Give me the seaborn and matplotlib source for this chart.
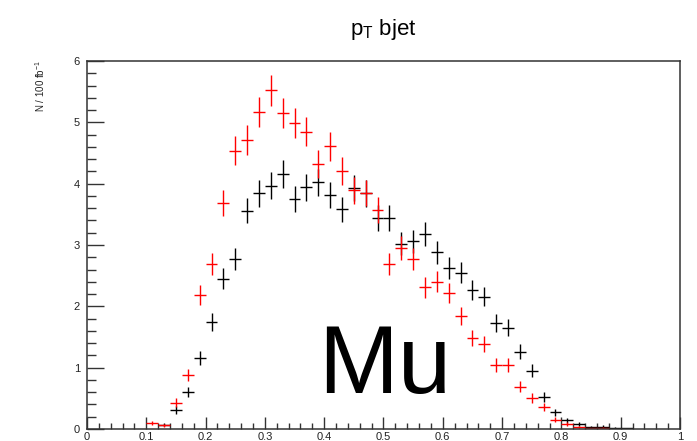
import matplotlib
matplotlib.use("Agg")
import matplotlib.pyplot as plt
import numpy as np
import seaborn as sns
from matplotlib.ticker import MultipleLocator

sns.set_style("ticks")
plt.rcParams["font.family"] = ["Liberation Sans", "DejaVu Sans"]
plt.rcParams["text.color"] = "black"
plt.rcParams["mathtext.fontset"] = "custom"
plt.rcParams["mathtext.rm"] = "Liberation Sans"

# bin centres (width 0.02) and contents
red_x = [0.11, 0.13, 0.15, 0.17, 0.19, 0.21, 0.23, 0.25, 0.27, 0.29,
         0.31, 0.33, 0.35, 0.37, 0.39, 0.41, 0.43, 0.45, 0.47, 0.49,
         0.51, 0.53, 0.55, 0.57, 0.59, 0.61, 0.63, 0.65, 0.67, 0.69,
         0.71, 0.73, 0.75, 0.77, 0.79, 0.81, 0.83, 0.85, 0.87]
red_y = [0.10, 0.06, 0.43, 0.88, 2.19, 2.69, 3.68, 4.54, 4.71, 5.17,
         5.52, 5.15, 4.99, 4.85, 4.32, 4.61, 4.21, 3.89, 3.85, 3.57,
         2.69, 2.95, 2.77, 2.31, 2.40, 2.21, 1.84, 1.48, 1.39, 1.04,
         1.04, 0.69, 0.51, 0.36, 0.15, 0.08, 0.03, 0.01, 0.02]

black_x = [0.13, 0.15, 0.17, 0.19, 0.21, 0.23, 0.25, 0.27, 0.29, 0.31,
           0.33, 0.35, 0.37, 0.39, 0.41, 0.43, 0.45, 0.47, 0.49, 0.51,
           0.53, 0.55, 0.57, 0.59, 0.61, 0.63, 0.65, 0.67, 0.69, 0.71,
           0.73, 0.75, 0.77, 0.79, 0.81, 0.83, 0.85, 0.87, 0.89, 0.91]
black_y = [0.07, 0.31, 0.60, 1.16, 1.75, 2.45, 2.77, 3.56, 3.84, 3.97,
           4.16, 3.75, 3.94, 4.02, 3.82, 3.58, 3.93, 3.84, 3.44, 3.44,
           3.02, 3.06, 3.18, 2.88, 2.62, 2.55, 2.27, 2.16, 1.73, 1.65,
           1.26, 0.95, 0.52, 0.27, 0.14, 0.08, 0.03, 0.04, 0.02, 0.01]

bin_half = 0.01
event_weight = 0.0121  # weighted-Poisson errors: sqrt(N * w)


def draw_hist(ax, x, y, color):
    y = np.asarray(y)
    ax.errorbar(x, y, xerr=bin_half, yerr=np.sqrt(y * event_weight),
                fmt="none", ecolor=color, elinewidth=1.0, capsize=0)


fig = plt.figure(figsize=(6.97, 4.41), dpi=100)
ax = fig.add_axes([0.1248, 0.0272, 0.8508, 0.8345])

draw_hist(ax, black_x, black_y, "black")
draw_hist(ax, red_x, red_y, "red")

ax.set_xlim(0, 1)
ax.set_ylim(0, 6)
ax.xaxis.set_major_locator(MultipleLocator(0.1))
ax.xaxis.set_minor_locator(MultipleLocator(0.02))
ax.yaxis.set_major_locator(MultipleLocator(1))
ax.yaxis.set_minor_locator(MultipleLocator(0.2))
ax.set_xticklabels([f"{v:g}" for v in np.round(ax.get_xticks(), 1)])

for s in ax.spines.values():
    s.set_linewidth(1.1)
    s.set_color("#333333")
ax.tick_params(axis="both", which="both", direction="in", top=False, right=False,
               labelsize=8, color="#333333", labelcolor="#222222", width=1.0)
ax.tick_params(axis="x", which="major", length=8.5, pad=2)
ax.tick_params(axis="x", which="minor", length=4.3)
ax.tick_params(axis="y", which="major", length=12.5, pad=5)
ax.tick_params(axis="y", which="minor", length=6.5)

fig.text(0.55, 0.932, "p$_\\mathrm{T}$ bjet", ha="center", va="center", fontsize=16)
fig.text(0.057, 0.864, "N / 100 fb$^{-1}$", rotation=90, ha="center", va="top",
         fontsize=7, color="#222222")
fig.text(0.456, 0.109, "Mu", ha="left", va="baseline", fontsize=69, color="black")

fig.savefig("out.png", dpi=100)
